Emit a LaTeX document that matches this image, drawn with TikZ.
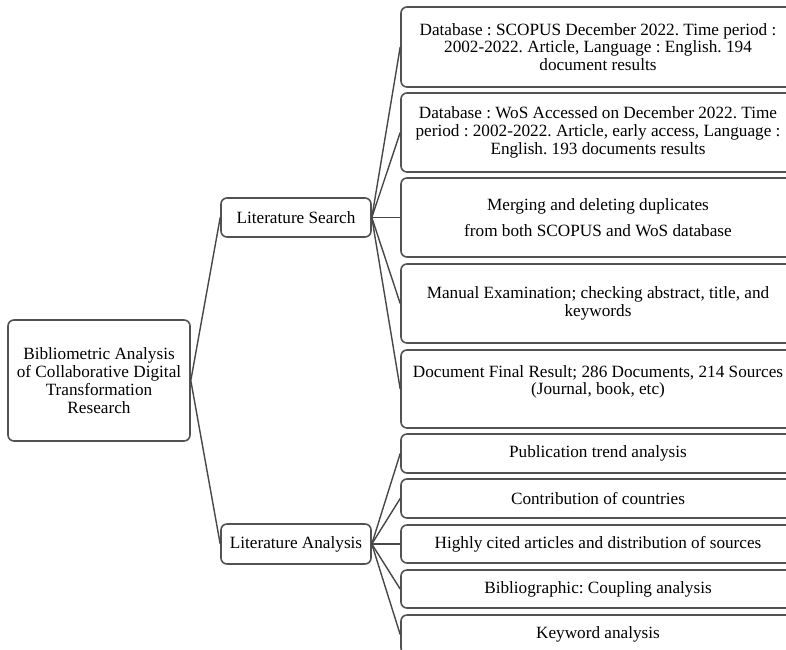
\documentclass[tikz,border=0pt]{standalone}
\usepackage{fontspec}
\setmainfont{Liberation Serif}
\begin{document}
\frenchspacing
\begin{tikzpicture}[x=1pt,y=1pt,
  box/.style={draw=black!68, line width=1.6pt, rounded corners=6pt, align=center,
    inner sep=0pt, font=\fontsize{17.2}{17.8}\selectfont},
  leaf/.style={box, minimum width=394},
  conn/.style={draw=black!72, line width=1.4pt}]
\useasboundingbox (0,0) rectangle (786,-649);
\clip (0,0) rectangle (786,-649);
\node[box, minimum width=182, minimum height=121] (root) at (99,-380.5)
  {Bibliometric Analysis\\of Collaborative Digital\\Transformation\\Research};
\node[box, minimum width=150, minimum height=39] (ls) at (296,-217.5) {Literature Search};
\node[box, minimum width=150, minimum height=40] (la) at (296,-544) {Literature Analysis};
\node[leaf, minimum height=80] (b1) at (598,-47)
  {Database : SCOPUS December 2022. Time period :\\2002-2022. Article, Language : English. 194\\document results};
\node[leaf, minimum height=79] (b2) at (598,-132.5)
  {Database : WoS Accessed on December 2022. Time\\period : 2002-2022. Article, early access, Language :\\English. 193 documents results};
\node[leaf, minimum height=79] (b3) at (598,-217.5)
  {Merging and deleting duplicates\\[8pt]from both SCOPUS and WoS database};
\node[leaf, minimum height=79] (b4) at (598,-303.5)
  {Manual Examination; checking abstract, title, and\\keywords};
\node[leaf, minimum height=78] (b5) at (598,-389)
  {Document Final Result; 286 Documents, 214 Sources\\(Journal, book, etc)\\\mbox{}};
\node[leaf, minimum height=39] (b6) at (598,-453.5) {Publication trend analysis};
\node[leaf, minimum height=39] (b7) at (598,-498.5) {Contribution of countries};
\node[leaf, minimum height=38] (b8) at (598,-544) {Highly cited articles and distribution of sources};
\node[leaf, minimum height=38] (b9) at (598,-589) {Bibliographic: Coupling analysis};
\node[leaf, minimum height=39] (b10) at (598,-634.5) {Keyword analysis};
\draw[conn] (root.east) -- (ls.west);
\draw[conn] (root.east) -- (la.west);
\foreach \b in {b1,b2,b3,b4,b5} \draw[conn] (ls.east) -- (\b.west);
\foreach \b in {b6,b7,b8,b9,b10} \draw[conn] (la.east) -- (\b.west);
\end{tikzpicture}
\end{document}
